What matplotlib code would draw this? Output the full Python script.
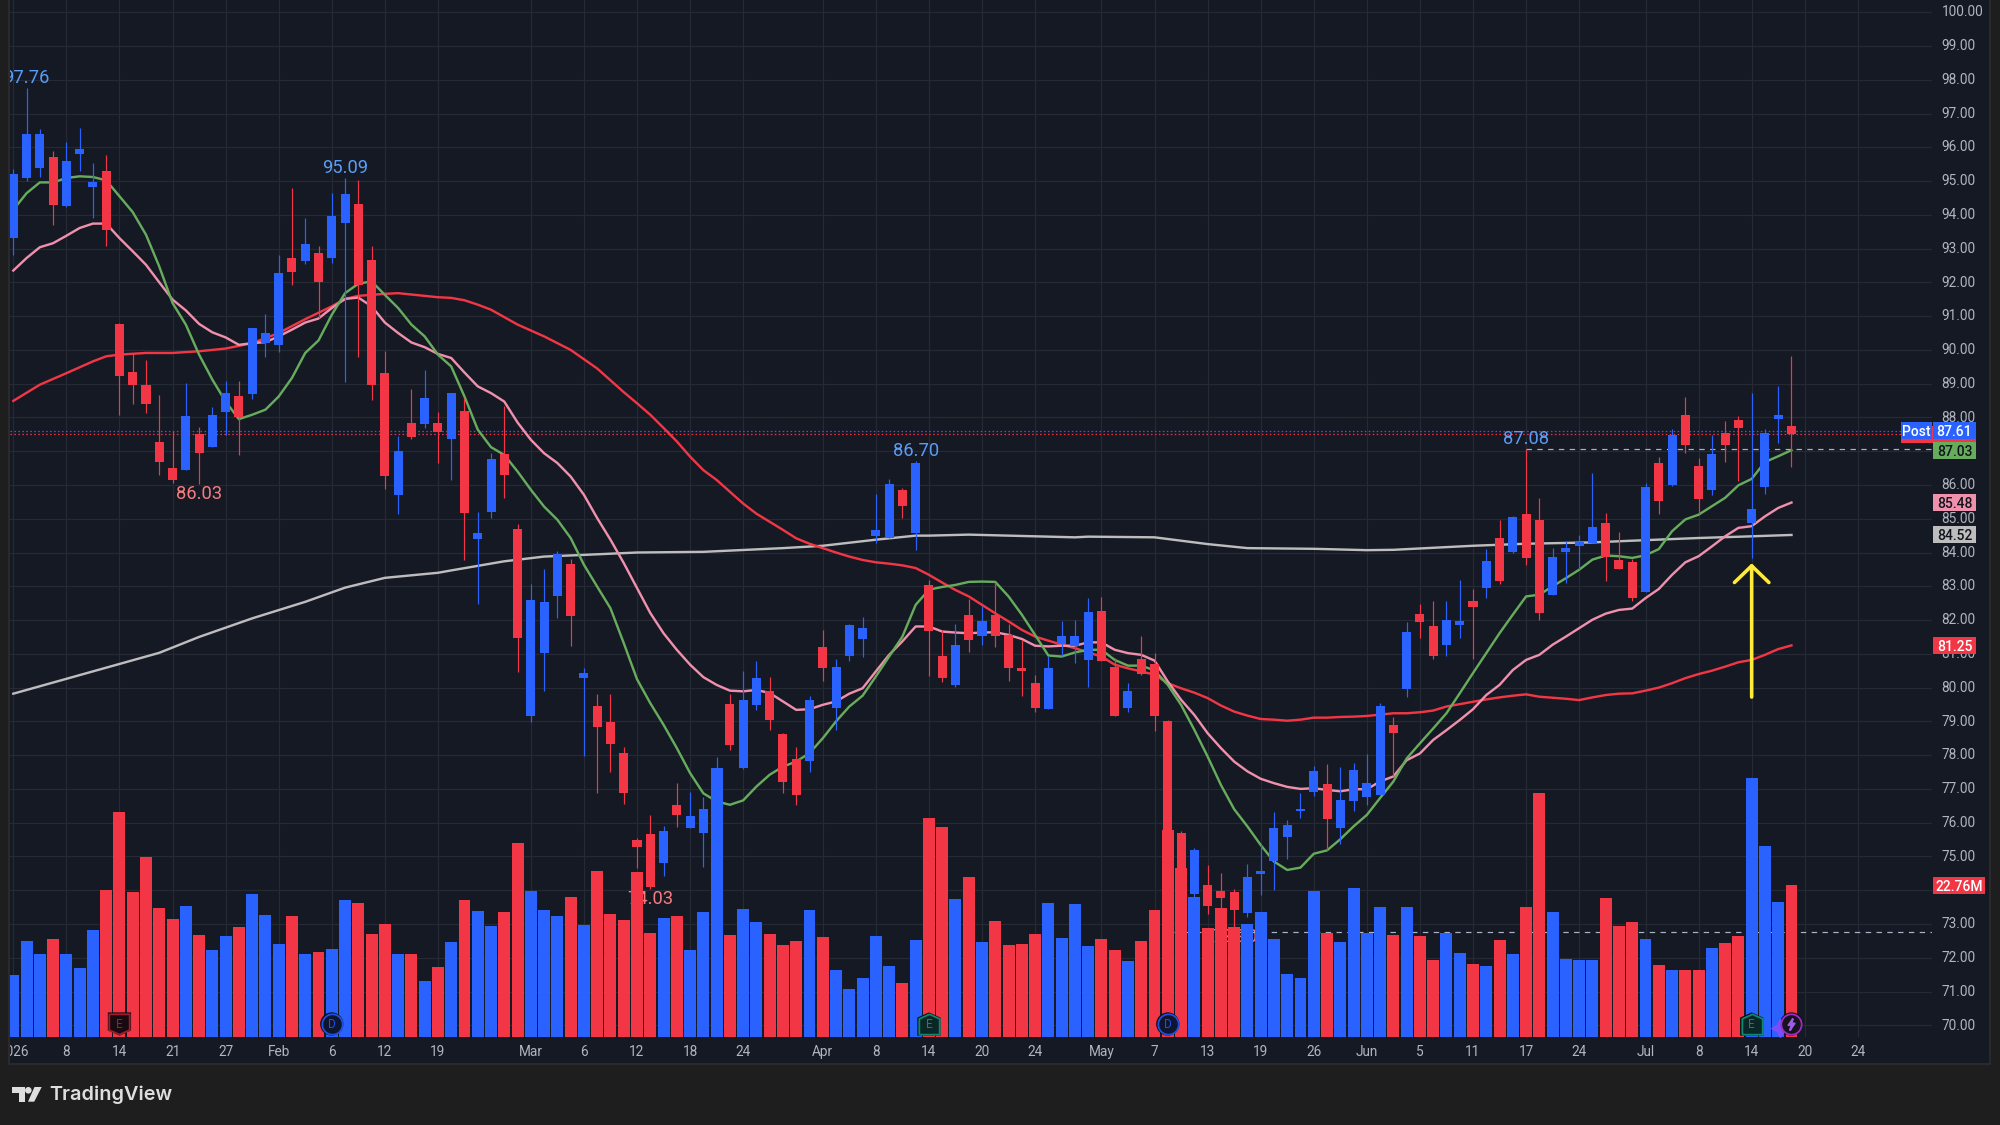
import matplotlib
matplotlib.use("Agg")
import numpy as np
import matplotlib.pyplot as plt
from matplotlib.patches import Rectangle, Polygon, Circle
from matplotlib.path import Path
from matplotlib.transforms import IdentityTransform, ScaledTranslation, blended_transform_factory

plt.rcParams["font.family"] = ["Roboto", "DejaVu Sans"]

# Daily candles, Jan 2 to Jul 17 2026
OPEN = [93.30, 95.08, 95.40, 95.72, 94.25, 95.81, 94.83, 95.31, 90.77, 89.35,
        88.97, 87.28, 86.51, 86.43, 87.52, 87.11, 88.15, 88.64, 88.68, 90.19,
        90.15, 92.73, 92.64, 92.88, 92.73, 93.75, 94.33, 92.67, 89.32, 85.69,
        87.84, 87.82, 87.84, 87.35, 88.20, 84.39, 85.19, 86.92, 84.70, 79.15,
        81.01, 82.70, 83.67, 80.27, 79.46, 78.99, 78.07, 75.49, 75.67, 74.82,
        76.53, 75.83, 75.68, 76.30, 79.52, 77.62, 79.49, 79.91, 78.63, 77.89,
        77.84, 81.21, 79.41, 80.95, 81.43, 84.50, 84.44, 85.86, 84.58, 83.04,
        80.94, 80.08, 82.16, 81.53, 82.16, 81.56, 80.59, 80.14, 79.37, 81.30,
        81.24, 80.82, 82.27, 80.62, 79.40, 80.85, 80.71, 79.02, 75.70, 73.89,
        74.14, 73.99, 73.94, 73.32, 74.49, 74.87, 75.58, 76.36, 76.92, 77.15,
        75.85, 76.63, 76.75, 76.81, 78.90, 79.97, 82.19, 81.83, 81.25, 81.84,
        82.57, 82.94, 84.44, 84.01, 85.15, 84.95, 82.73, 84.01, 84.18, 84.27,
        84.86, 83.79, 83.73, 82.82, 86.64, 85.99, 88.06, 86.55, 85.85, 87.53,
        87.91, 84.87, 85.93, 87.94, 87.76]
HIGH = [95.37, 97.76, 96.55, 95.90, 96.16, 96.58, 95.54, 95.78, 90.79, 89.91,
        89.71, 88.67, 87.59, 89.02, 87.72, 88.32, 89.09, 89.09, 90.66, 91.07,
        92.82, 94.80, 93.91, 93.08, 94.65, 95.09, 95.04, 93.08, 89.98, 87.46,
        88.85, 89.41, 88.17, 88.73, 88.59, 85.21, 86.94, 88.35, 84.84, 83.07,
        83.52, 84.05, 83.81, 80.59, 79.82, 79.82, 78.25, 75.55, 76.23, 75.91,
        77.18, 76.91, 76.77, 77.95, 79.82, 80.50, 80.79, 80.32, 78.67, 78.25,
        79.76, 81.71, 80.85, 81.89, 82.10, 85.74, 86.18, 85.92, 86.70, 83.19,
        81.71, 81.89, 82.63, 82.42, 83.13, 81.89, 81.42, 80.38, 80.94, 81.98,
        82.01, 82.66, 82.69, 80.88, 80.14, 81.54, 81.03, 79.05, 75.74, 75.26,
        74.75, 74.50, 74.05, 74.78, 75.37, 76.32, 76.09, 76.88, 77.68, 77.74,
        77.65, 77.77, 78.04, 79.55, 79.14, 81.93, 82.48, 82.57, 82.57, 83.19,
        82.93, 84.11, 84.95, 85.09, 87.08, 85.60, 84.14, 84.35, 84.51, 86.34,
        85.18, 84.62, 83.82, 86.07, 86.82, 87.65, 88.60, 86.79, 87.47, 87.88,
        88.03, 88.72, 87.65, 88.92, 89.81]
LOW = [92.82, 94.99, 95.11, 93.69, 94.22, 95.29, 93.92, 93.09, 88.08, 88.39,
       88.12, 86.31, 86.05, 86.43, 86.03, 87.11, 87.49, 86.88, 88.56, 89.78,
       89.93, 91.93, 92.55, 90.94, 92.58, 89.04, 89.78, 88.53, 85.87, 85.13,
       87.36, 87.68, 86.64, 86.16, 83.78, 82.49, 85.01, 85.60, 80.47, 78.97,
       79.89, 82.05, 81.22, 77.96, 76.89, 77.49, 76.54, 74.67, 74.03, 74.41,
       75.86, 75.83, 74.70, 76.00, 78.14, 77.60, 79.34, 78.75, 76.89, 76.51,
       77.49, 80.21, 78.73, 80.80, 80.92, 84.27, 84.44, 85.01, 84.08, 80.35,
       80.17, 80.02, 81.06, 81.27, 81.21, 80.20, 79.76, 79.28, 79.37, 80.94,
       80.73, 80.02, 80.79, 79.17, 79.29, 80.38, 78.72, 74.00, 73.70, 73.80,
       73.29, 73.40, 72.90, 73.20, 73.86, 74.01, 74.93, 76.14, 76.80, 75.20,
       75.37, 76.35, 76.53, 76.81, 77.37, 79.73, 81.48, 80.86, 80.95, 81.48,
       80.86, 82.64, 83.06, 83.98, 83.62, 81.99, 82.73, 83.09, 83.51, 84.27,
       83.15, 83.50, 82.55, 82.82, 85.13, 85.96, 86.94, 85.13, 85.70, 86.67,
       86.13, 83.85, 85.73, 87.23, 86.52]
CLOSE = [95.22, 96.40, 96.40, 94.28, 95.60, 95.96, 94.98, 93.56, 89.24, 88.95,
         88.39, 86.67, 86.14, 88.05, 86.96, 88.08, 88.73, 88.02, 90.66, 90.51,
         92.29, 92.30, 93.14, 92.00, 93.97, 94.62, 91.91, 88.95, 86.28, 87.01,
         87.41, 88.58, 87.56, 88.73, 85.16, 84.58, 86.78, 86.31, 81.46, 82.60,
         82.54, 83.96, 82.11, 80.43, 78.82, 78.32, 76.89, 75.27, 74.10, 75.76,
         76.23, 76.20, 76.41, 77.60, 78.29, 79.64, 80.29, 79.03, 77.19, 76.81,
         79.64, 80.57, 80.62, 81.86, 81.77, 84.67, 86.04, 85.38, 86.66, 81.68,
         80.29, 81.27, 81.42, 81.98, 81.53, 80.59, 80.50, 79.40, 80.59, 81.53,
         81.53, 82.24, 80.79, 79.17, 79.91, 80.41, 79.17, 74.00, 74.00, 75.20,
         73.53, 73.76, 73.40, 74.40, 74.56, 75.85, 75.94, 76.41, 77.54, 76.11,
         76.68, 77.57, 77.18, 79.46, 78.67, 81.65, 81.93, 80.95, 82.01, 81.98,
         82.40, 83.76, 83.15, 85.06, 83.83, 82.20, 83.88, 84.14, 84.32, 84.77,
         83.86, 83.50, 82.64, 85.95, 85.52, 87.47, 87.18, 85.58, 86.93, 87.18,
         87.68, 85.30, 87.53, 88.08, 87.50]
VOLUME = [9.25, 14.35, 12.40, 14.65, 12.40, 10.30, 16.00, 22.00, 33.70, 21.70,
          26.95, 19.30, 17.65, 19.60, 15.25, 13.00, 15.10, 16.45, 21.40, 18.25,
          13.90, 18.10, 12.40, 12.70, 13.15, 20.50, 20.05, 15.40, 16.90, 12.40,
          12.40, 8.35, 10.45, 14.20, 20.50, 18.85, 16.60, 18.70, 29.05, 21.85,
          19.00, 18.10, 20.95, 16.75, 24.85, 18.40, 17.50, 24.70, 15.55, 17.80,
          18.10, 13.00, 18.70, 40.30, 15.25, 19.15, 17.20, 15.40, 13.75, 14.35,
          19.00, 14.95, 10.00, 7.15, 8.80, 15.10, 10.60, 8.05, 14.50, 32.80,
          31.45, 20.65, 23.95, 14.20, 17.35, 13.75, 13.90, 15.40, 20.05, 14.80,
          19.90, 13.60, 14.65, 13.00, 11.35, 14.35, 19.00, 31.00, 25.30, 20.95,
          16.30, 19.30, 16.45, 16.90, 18.70, 14.65, 9.40, 8.80, 21.85, 15.55,
          14.20, 22.30, 15.55, 19.45, 15.25, 19.45, 15.10, 11.50, 15.55, 12.55,
          10.90, 10.60, 14.50, 12.40, 19.45, 36.55, 18.70, 11.65, 11.50, 11.50,
          20.80, 16.60, 17.20, 14.65, 10.75, 10.00, 10.00, 10.00, 13.30, 14.05,
          15.10, 38.80, 28.60, 20.20, 22.76]
VOLUME_AVG = 15.75

# Moving averages
MA_FAST = [94.15, 94.64, 94.96, 94.96, 95.09, 95.14, 95.12, 95.02, 94.55, 94.08,
           93.41, 92.47, 91.39, 90.75, 89.86, 89.12, 88.47, 87.95, 88.08, 88.23,
           88.62, 89.17, 89.91, 90.28, 91.04, 91.68, 91.96, 92.03, 91.63, 91.24,
           90.75, 90.40, 89.86, 89.51, 88.62, 87.64, 87.12, 86.89, 86.40, 85.86,
           85.36, 84.97, 84.43, 83.64, 82.99, 82.35, 81.32, 80.25, 79.54, 78.90,
           78.21, 77.47, 76.87, 76.63, 76.53, 76.66, 77.07, 77.42, 77.66, 77.81,
           78.06, 78.50, 79.00, 79.44, 79.76, 80.33, 80.92, 81.51, 82.45, 82.90,
           82.98, 83.04, 83.13, 83.14, 83.13, 82.70, 82.16, 81.56, 80.95, 80.92,
           81.04, 81.12, 81.12, 80.82, 80.65, 80.65, 80.51, 80.08, 79.49, 78.75,
           77.96, 77.12, 76.40, 75.89, 75.34, 74.85, 74.60, 74.67, 75.08, 75.18,
           75.51, 75.89, 76.23, 76.73, 77.22, 77.90, 78.35, 78.79, 79.24, 79.83,
           80.43, 81.02, 81.61, 82.16, 82.70, 82.75, 83.00, 83.24, 83.49, 83.79,
           83.91, 83.89, 83.84, 83.92, 84.10, 84.63, 84.98, 85.12, 85.37, 85.62,
           85.99, 86.18, 86.68, 86.85, 87.03]
MA_MID = [92.35, 92.72, 93.04, 93.16, 93.38, 93.61, 93.74, 93.74, 93.31, 92.92,
          92.52, 92.00, 91.49, 91.17, 90.77, 90.52, 90.37, 90.15, 90.20, 90.23,
          90.40, 90.60, 90.81, 90.93, 91.24, 91.51, 91.55, 91.29, 90.81, 90.50,
          90.22, 90.08, 89.88, 89.76, 89.33, 88.92, 88.72, 88.47, 87.85, 87.34,
          86.94, 86.65, 86.25, 85.71, 85.02, 84.38, 83.69, 82.95, 82.21, 81.61,
          81.12, 80.68, 80.31, 80.08, 79.91, 79.89, 79.93, 79.84, 79.59, 79.34,
          79.36, 79.49, 79.59, 79.82, 79.98, 80.48, 80.97, 81.37, 81.81, 81.81,
          81.66, 81.63, 81.61, 81.63, 81.64, 81.56, 81.44, 81.24, 81.22, 81.24,
          81.24, 81.34, 81.34, 81.12, 81.02, 80.97, 80.80, 80.18, 79.64, 79.19,
          78.65, 78.21, 77.81, 77.52, 77.30, 77.17, 77.06, 77.00, 77.02, 76.97,
          76.93, 76.99, 76.99, 77.22, 77.37, 77.85, 78.05, 78.45, 78.74, 79.04,
          79.36, 79.78, 80.08, 80.52, 80.82, 80.97, 81.27, 81.51, 81.76, 82.01,
          82.19, 82.30, 82.34, 82.65, 82.92, 83.34, 83.71, 83.89, 84.18, 84.48,
          84.73, 84.78, 85.07, 85.32, 85.48]
MA_SLOW_BAR = [0, 2, 4, 6, 7, 8, 10, 12, 14, 16, 18, 20, 22, 24, 25, 26, 28, 29, 32, 33,
               34, 35, 36, 38, 40, 42, 44, 46, 47, 48, 49, 50, 51, 52, 53, 54, 55, 56,
               57, 58, 59, 60, 61, 62, 63, 64, 65, 66, 67, 68, 69, 70, 71, 72, 73, 74,
               75, 76, 77, 78, 79, 80, 81, 82, 83, 84, 85, 86, 87, 88, 89, 90, 91, 92,
               93, 94, 95, 96, 97, 98, 99, 100, 101, 102, 103, 104, 105, 106, 107, 108,
               109, 110, 111, 112, 113, 114, 115, 116, 117, 118, 119, 120, 121, 122, 123,
               124, 125, 126, 127, 128, 129, 130, 131, 132, 133, 134]
MA_SLOW = [88.49, 88.97, 89.31, 89.66, 89.81, 89.86, 89.91, 89.91, 89.96, 90.04, 90.20,
           90.50, 90.91, 91.29, 91.51, 91.60, 91.66, 91.68, 91.56, 91.54,
           91.47, 91.34, 91.19, 90.75, 90.40, 90.00, 89.45, 88.75, 88.42, 88.08, 87.69,
           87.29, 86.84, 86.44, 86.15, 85.80, 85.45, 85.15,
           84.91, 84.67, 84.42, 84.26, 84.13, 84.00, 83.88, 83.78, 83.71, 83.67, 83.62,
           83.54, 83.34, 83.11, 82.89, 82.70, 82.45, 82.20,
           81.96, 81.71, 81.51, 81.39, 81.27, 81.17, 81.04, 80.92, 80.68, 80.57, 80.48,
           80.38, 80.13, 79.98, 79.85, 79.69, 79.47, 79.29,
           79.17, 79.07, 79.05, 79.02, 79.05, 79.11, 79.11, 79.13, 79.14, 79.16, 79.20,
           79.24, 79.24, 79.27, 79.32, 79.44,
           79.51, 79.58, 79.65, 79.71, 79.76, 79.80, 79.73, 79.70, 79.67, 79.63, 79.71,
           79.78, 79.82, 79.83, 79.91,
           80.00, 80.13, 80.28, 80.40, 80.50, 80.62, 80.75, 80.82, 80.97, 81.14, 81.25]
MA_LONG_BAR = [0, 2, 5, 8, 11, 14, 18, 22, 25, 28, 32, 33, 37, 40, 43, 47, 52, 58, 61, 65,
               68, 69, 72, 77, 80, 81, 86, 90, 93, 98, 102, 104, 110, 114, 119, 122, 127,
               131, 134]
MA_LONG = [79.82, 80.04, 80.37, 80.70, 81.03, 81.50, 82.05, 82.54, 82.96, 83.25, 83.40,
           83.47, 83.74, 83.88, 83.93, 84.00, 84.02, 84.13, 84.20, 84.38,
           84.50, 84.50, 84.53, 84.48, 84.45, 84.47, 84.45, 84.25, 84.13, 84.11, 84.07,
           84.08, 84.20, 84.26, 84.30, 84.35, 84.43, 84.48, 84.52]

# Time axis
TICK_BARS = [0, 4, 8, 12, 16, 20, 24, 28, 32, 39, 43, 47, 51, 55, 61, 65, 69, 73, 77, 82,
             86, 90, 94, 98, 102, 106, 110, 114, 118, 123, 127, 131, 135, 139]
TICK_TEXT = ["2026", "8", "14", "21", "27", "Feb", "6", "12", "19", "Mar", "6", "12", "18",
             "24", "Apr", "8", "14", "20", "24", "May", "7", "13", "19", "26", "Jun", "5",
             "11", "17", "24", "Jul", "8", "14", "20", "24"]

# Swing high and low labels: bar numbers, values taken from the candles
HIGH_MARK_BARS = [1, 25, 68, 114]
LOW_MARK_BARS = [14, 48, 92]
LAST_HIGH_BAR = 114
POST_PRICE = 87.61
LAST_CLOSE = CLOSE[-1]

# Price levels whose scale labels sit entirely under a tag
HIDDEN_PRICE_LABELS = [74, 87]

# Bars carrying an event badge
EARNINGS_MISS_BARS = [8]
EARNINGS_BEAT_BARS = [69, 131]
DIVIDEND_BARS = [24, 87]
NEWS_BAR = 134
ARROW_BAR, ARROW_FROM, ARROW_TO = 131, 79.72, 83.68

BG_OUTER = "#1e1e1e"
BG_PANEL = "#151924"
BORDER = "#2a2a2a"
GRID = "#262a35"
TXT = "#b2b5be"
UP = "#2962ff"
DOWN = "#f23645"
C_FAST = "#66ac5c"
C_MID = "#ef90ac"
C_SLOW = "#f23645"
C_LONG = "#bdbdbd"

W, H = 2000, 1125
PLOT_L, PLOT_R, PLOT_T, PLOT_B = 10, 1932, 0, 1036.7
BAR_PX = 13.27
BAR0_PX = 13.3
PX_PER_UNIT = 33.77
PRICE70_PX = 1025.3
PX_PER_MVOL = 6.665


def px(v):
    return v * 0.72


fig = plt.figure(figsize=(W / 100, H / 100), dpi=100, facecolor=BG_OUTER)
pix = IdentityTransform()


def fig_rect(x0, y0, x1, y1, color, z):
    fig.add_artist(Rectangle((x0, H - y1), x1 - x0, y1 - y0, transform=pix, facecolor=color,
                             edgecolor="none", zorder=z))


fig_rect(8, 0, 1991, 1065, BORDER, -3)
fig_rect(10, 0, 1989, 1063, BG_PANEL, -2)

ax_rect = [PLOT_L / W, 1 - PLOT_B / H, (PLOT_R - PLOT_L) / W, (PLOT_B - PLOT_T) / H]
ax = fig.add_axes(ax_rect, zorder=1)
ax.patch.set_visible(False)
ax_vol = fig.add_axes(ax_rect, zorder=2)
ax_top = fig.add_axes(ax_rect, zorder=3)
ax_vol.axis("off")
ax_top.axis("off")

xlim = ((PLOT_L - BAR0_PX) / BAR_PX, (PLOT_R - BAR0_PX) / BAR_PX)
ylim = (70 - (PLOT_B - PRICE70_PX) / PX_PER_UNIT, 70 + (PRICE70_PX - PLOT_T) / PX_PER_UNIT)
for a in (ax, ax_vol, ax_top):
    a.set_xlim(xlim)
ax.set_ylim(ylim)
ax_top.set_ylim(ylim)
ax_vol.set_ylim(0, (PLOT_B - PLOT_T) / PX_PER_MVOL)

# Axes furniture
for s in ax.spines.values():
    s.set_visible(False)
ax.yaxis.tick_right()
ax.set_yticks(np.arange(70, 101))
ax.set_yticklabels(["" if v in HIDDEN_PRICE_LABELS else f"{v:.2f}" for v in np.arange(70, 101)],
                   fontsize=9.8, color=TXT)
ax.set_xticks(TICK_BARS)
ax.set_xticklabels(TICK_TEXT, fontsize=9.8, color=TXT)
ax.tick_params(axis="both", length=0, colors=TXT)
ax.tick_params(axis="y", pad=7)
ax.tick_params(axis="x", pad=6)
ax.grid(True, color=GRID, lw=px(1.2))
ax.set_axisbelow(True)
nudge = ScaledTranslation(0, 1.3 / 100, fig.dpi_scale_trans)
for lab in ax.get_yticklabels():
    lab.set_transform(lab.get_transform() + nudge)

bars = np.arange(len(CLOSE))
o, h, l, c = map(np.array, (OPEN, HIGH, LOW, CLOSE))
colors = np.where(c >= o, UP, DOWN)

# Session reference lines
ax.axhline(POST_PRICE, color=UP, lw=px(1.2), ls=(0, (1.3, 2.0)), zorder=1.5)
ax.axhline(LAST_CLOSE, color=DOWN, lw=px(1.2), ls=(0, (1.3, 2.0)), zorder=1.5)
ax.plot([LAST_HIGH_BAR, xlim[1]], [HIGH[LAST_HIGH_BAR]] * 2, color="#a9b4c8", lw=px(1.2),
        ls=(0, (4.5, 4.5)), zorder=1.6)

# Moving averages sit under the volume bars
ma_lw = px(2.4)
ax.plot(MA_LONG_BAR, MA_LONG, color=C_LONG, lw=ma_lw, zorder=2, solid_joinstyle="round")
ax.plot(MA_SLOW_BAR, MA_SLOW, color=C_SLOW, lw=ma_lw, zorder=2.1, solid_joinstyle="round")
ax.plot(bars, MA_MID, color=C_MID, lw=ma_lw, zorder=2.2, solid_joinstyle="round")
ax.plot(bars, MA_FAST, color=C_FAST, lw=ma_lw, zorder=2.3, solid_joinstyle="round")

# Swing labels
for b in HIGH_MARK_BARS:
    ax.annotate(f"{HIGH[b]:.2f}", (b, HIGH[b]), xytext=(0, px(10)), textcoords="offset points",
                ha="center", va="center", fontsize=13.2, color="#5b9cf6", zorder=3)
for b in LOW_MARK_BARS:
    ax.annotate(f"{LOW[b]:.2f}", (b, LOW[b]), xytext=(0, px(-10)), textcoords="offset points",
                ha="center", va="center", fontsize=13.2, color="#f77c80", zorder=3)

# Volume
ax_vol.plot([87.5, xlim[1]], [VOLUME_AVG, VOLUME_AVG], color="#a9b4c8", lw=px(1.2),
            ls=(0, (4.5, 4.5)), zorder=1)
ax_vol.bar(bars, VOLUME, width=0.9, color=colors, lw=0, zorder=2)

# Candles
ax_top.vlines(bars, l, h, colors=colors, lw=px(1.2), zorder=2)
ax_top.bar(bars, np.abs(c - o), bottom=np.minimum(o, c), width=0.68, color=colors, lw=0, zorder=3)

# Arrow pointing at the reversal bar
ax_top.annotate("", xy=(ARROW_BAR, ARROW_TO), xytext=(ARROW_BAR, ARROW_FROM),
                arrowprops=dict(arrowstyle="->,head_length=0.6,head_width=0.62", color="#ffeb3b",
                                lw=px(3.6), shrinkA=0, shrinkB=0, mutation_scale=20), zorder=6)

# Event badges along the bottom
badge_tr = blended_transform_factory(ax_top.transData, ax_top.transAxes)
BADGE_Y = (PLOT_B - 1024) / (PLOT_B - PLOT_T)
STAR_Y = (PLOT_B - 1028) / (PLOT_B - PLOT_T)
shield_down = Path([(-1, 1), (1, 1), (1, -0.55), (0, -1), (-1, -0.55), (-1, 1)])
shield_up = Path([(-1, -1), (1, -1), (1, 0.55), (0, 1), (-1, 0.55), (-1, -1)])
bolt = Path([(0.25, 1), (-0.55, -0.12), (-0.02, -0.12), (-0.25, -1), (0.55, 0.2), (0.02, 0.2),
             (0.25, 1)])


def badge(bar, marker, face, edge, letter=None, size=215, y=BADGE_Y, ring=True):
    if ring:
        ax_top.scatter([bar], [y], s=size * 1.3, marker=marker, facecolor="#0c0c12", edgecolor="none",
                       transform=badge_tr, zorder=7.5, clip_on=False)
    ax_top.scatter([bar], [y], s=size, marker=marker, facecolor=face, edgecolor=edge,
                   lw=px(1.8), transform=badge_tr, zorder=8, clip_on=False)
    if letter:
        ax_top.text(bar, y, letter, transform=badge_tr, ha="center", va="center",
                    fontsize=8.6, color=edge, zorder=9)


for b in EARNINGS_MISS_BARS:
    badge(b, shield_down, "#180a10", "#a01c2a", "E")
for b in EARNINGS_BEAT_BARS:
    badge(b, shield_up, "#0a2626", "#0b8a72", "E")
for b in DIVIDEND_BARS:
    badge(b, "o", "#0d1530", "#2050e0", "D")
badge(NEWS_BAR - 0.9, (4, 1, 0), "#7c4dff", "#7c4dff", size=150, y=STAR_Y, ring=False)
badge(NEWS_BAR, "o", "#17121f", "#9c2fc0")
badge(NEWS_BAR, bolt, "#9c5fe0", "#9c5fe0", size=70, ring=False)

# Labels on the price scale
scale_tr = blended_transform_factory(pix, ax_top.transData)
vol_tr = blended_transform_factory(pix, ax_vol.transData)


def price_tag(a, tr, value, text, face, ink, x0=1933, x1=1976, h_px=17, unit=PX_PER_UNIT):
    dy = h_px / unit
    a.add_patch(Rectangle((x0, value - dy / 2), x1 - x0, dy, transform=tr, facecolor=face,
                          edgecolor="none", clip_on=False, zorder=10))
    if text:
        a.text((x0 + x1) / 2, value, text, transform=tr, ha="center", va="center_baseline",
               fontsize=10, color=ink, clip_on=False, zorder=11, fontweight="medium")


price_tag(ax_top, scale_tr, LAST_CLOSE, "", DOWN, "white", x0=1901)
price_tag(ax_top, scale_tr, POST_PRICE, f"{POST_PRICE:.2f}", UP, "white")
price_tag(ax_top, scale_tr, POST_PRICE, "Post", UP, "white", x0=1901, x1=1932)
price_tag(ax_top, scale_tr, MA_FAST[-1], f"{MA_FAST[-1]:.2f}", C_FAST, "#10131c")
price_tag(ax_top, scale_tr, MA_MID[-1], f"{MA_MID[-1]:.2f}", C_MID, "#10131c")
price_tag(ax_top, scale_tr, MA_LONG[-1], f"{MA_LONG[-1]:.2f}", C_LONG, "#10131c")
price_tag(ax_top, scale_tr, MA_SLOW[-1], f"{MA_SLOW[-1]:.2f}", DOWN, "white")
price_tag(ax_vol, vol_tr, VOLUME[-1], f"{VOLUME[-1]:.2f}M", DOWN, "white", x1=1985,
          unit=PX_PER_MVOL)

# Window edge over the first bar and its labels
fig_rect(0, 0, 8, 1125, BG_OUTER, 5)
fig_rect(8, 0, 10, 1065, BORDER, 5)

# Footer wordmark
ink = "#dedede"
fig.add_artist(Polygon([(12.3, H - 1087), (25, H - 1087), (25, H - 1101.7), (18.7, H - 1101.7),
                        (18.7, H - 1093), (12.3, H - 1093)], transform=pix, facecolor=ink,
                       edgecolor="none", zorder=6))
fig.add_artist(Circle((28.3, H - 1090.3), 3.3, transform=pix, facecolor=ink, edgecolor="none", zorder=6))
fig.add_artist(Polygon([(34.5, H - 1087), (41.7, H - 1087), (34.2, H - 1101.7), (28, H - 1101.7)],
                       transform=pix, facecolor=ink, edgecolor="none", zorder=6))
fig.text(49 / W, 1 - 1095 / H, "TradingView", fontsize=14.3, color=ink, family=["Inter", "DejaVu Sans"],
         fontweight="semibold", ha="left", va="center")

fig.savefig("out.png", dpi=100, facecolor=BG_OUTER)
